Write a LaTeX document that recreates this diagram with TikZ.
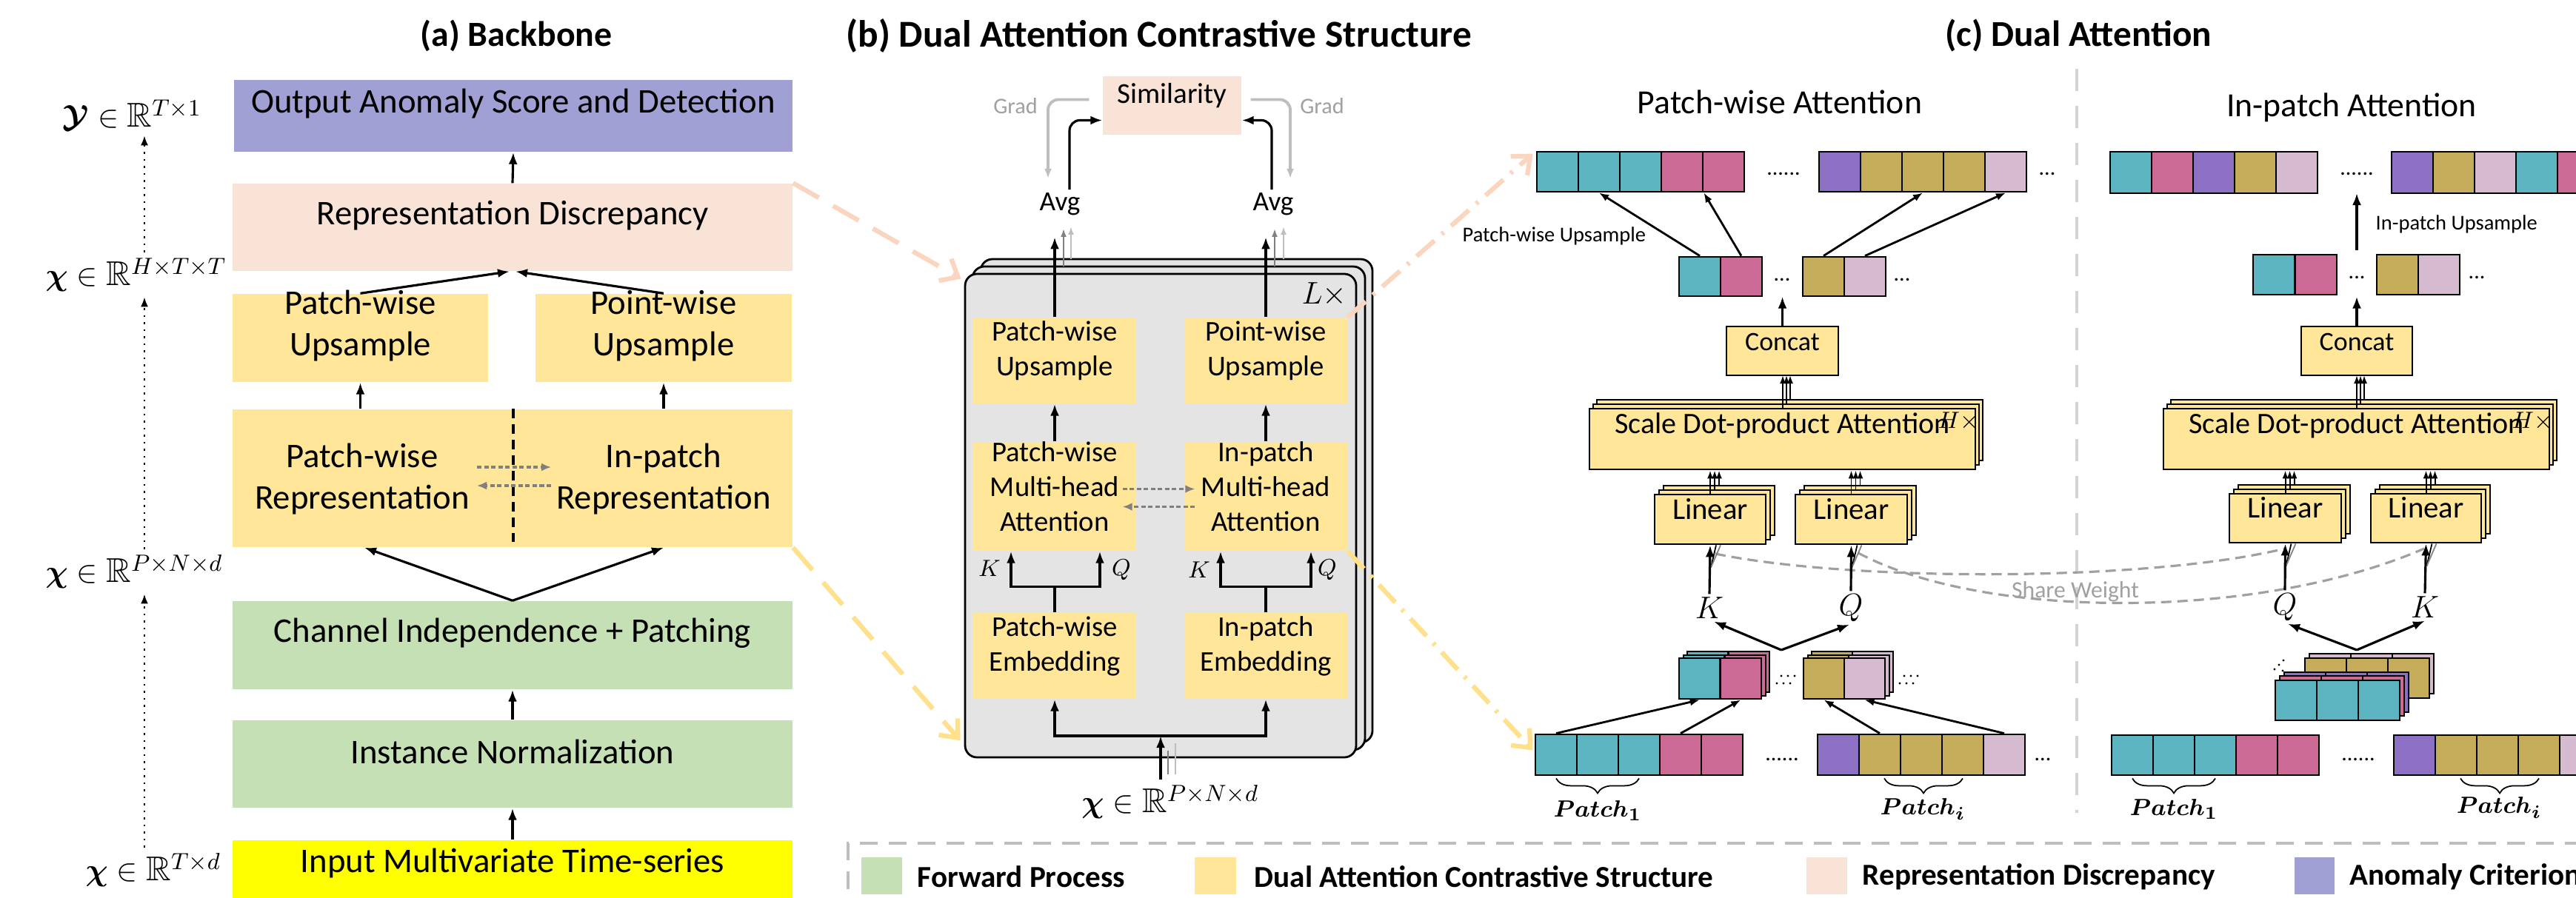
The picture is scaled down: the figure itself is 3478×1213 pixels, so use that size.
\documentclass[tikz,border=0pt]{standalone}
\usepackage{fontspec}
\setmainfont{Carlito}
\usepackage{amsmath,amssymb,bm}
\usetikzlibrary{arrows.meta,calc,fit,decorations.pathreplacing}

\definecolor{cOutBox}{RGB}{160,160,212}
\definecolor{cPeach}{RGB}{248,227,214}
\definecolor{cYel}{RGB}{255,230,153}
\definecolor{cGreen}{RGB}{197,224,180}
\definecolor{cInput}{RGB}{255,255,0}
\definecolor{cStack}{RGB}{228,228,228}
\definecolor{cTeal}{RGB}{91,180,192}
\definecolor{cPink}{RGB}{204,106,150}
\definecolor{cPurp}{RGB}{140,112,195}
\definecolor{cOlive}{RGB}{196,172,90}
\definecolor{cLav}{RGB}{214,186,208}
\definecolor{cPeachLine}{RGB}{250,214,192}
\definecolor{cYelLine}{RGB}{255,224,140}
\definecolor{cGrayTxt}{RGB}{160,160,160}
\definecolor{cGrayDk}{RGB}{128,128,128}
\definecolor{cGrayLt}{RGB}{190,190,190}
\definecolor{cDivider}{RGB}{212,212,212}

\tikzset{
  box/.style={inner sep=0pt, align=center, text=black},
  ybox/.style={box, draw=black, line width=0.8pt, fill=cYel},
  stk/.style={box, draw=black, line width=0.8pt, fill=cStack, rounded corners=0.16cm},
  cellbox/.style={inner sep=0pt, draw=black, line width=0.8pt},
  fA/.style={font=\fontsize{13.3}{15.8}\selectfont},
  fB/.style={font=\fontsize{11}{13.4}\selectfont},
  fC/.style={font=\fontsize{11.4}{14}\selectfont},
  fLin/.style={font=\fontsize{11.6}{14}\selectfont},
  fCat/.style={font=\fontsize{10.2}{12}\selectfont},
  fTitle/.style={font=\fontsize{14.6}{17}\selectfont\bfseries, inner sep=0pt},
  fSub/.style={font=\fontsize{13}{15}\selectfont, inner sep=0pt},
  fSmall/.style={font=\fontsize{8.1}{10}\selectfont, inner sep=0pt},
  fDots/.style={font=\fontsize{8.5}{10}\selectfont, inner sep=0pt},
  fLeg/.style={font=\fontsize{11.7}{14}\selectfont\bfseries, inner sep=0pt, anchor=west},
  fMath/.style={font=\fontsize{13.2}{16}\selectfont, inner sep=2pt},
  fKQb/.style={font=\fontsize{9.5}{11}\selectfont, inner sep=1pt},
  fKQc/.style={font=\fontsize{13}{15}\selectfont, inner sep=1pt},
  fHx/.style={font=\fontsize{9}{10}\selectfont, inner sep=0pt},
  fPatch/.style={font=\fontsize{9.5}{11}\selectfont, inner sep=0pt},
  fGrad/.style={font=\fontsize{8.6}{10}\selectfont, text=cGrayTxt, inner sep=0pt},
  arr/.style={line width=0.9pt, -{Latex[length=1.6mm,width=1.2mm]}},
  arrS/.style={line width=0.8pt, -{Latex[length=1.3mm,width=1mm]}},
  arrT/.style={line width=0.55pt, -{Latex[length=1.1mm,width=0.8mm]}},
  dotarr/.style={line width=0.7pt, dotted, -{Latex[length=1.3mm,width=1mm]}},
  gdash/.style={line width=1.1pt, draw=cGrayDk, dash pattern=on 0.06cm off 0.035cm,
    -{Latex[length=1.3mm,width=1.1mm]}},
  garr/.style={line width=1.1pt, draw=cGrayLt, rounded corners=0.14cm,
    -{Latex[length=1.3mm,width=1mm]}},
  swdash/.style={line width=0.9pt, draw=cGrayTxt, dash pattern=on 0.14cm off 0.08cm},
  brc/.style={decorate, decoration={brace, mirror, amplitude=0.2cm}, line width=0.5pt},
  linkdash/.style={line width=1.8pt, dash pattern=on 0.4cm off 0.22cm,
    -{Straight Barb[length=2mm,width=3.4mm,line width=1.8pt]}},
  linkdot/.style={line width=1.8pt, dash pattern=on 0.32cm off 0.13cm on 0.04cm off 0.13cm,
    -{Straight Barb[length=2mm,width=3.4mm,line width=1.8pt]}},
}

% box from its two corners
\newcommand\bx[7]{\node[box,#2,fit={(#3,#4) (#5,#6)}] (#1) {#7};}
% a row of equal coloured cells, named <name>-1, <name>-2, ...
\newcommand\cellrow[6]{%
  \foreach \cc [count=\ii] in {#6}{%
    \node[cellbox,fill=\cc,fit={({#2+(\ii-1)*#4},#3) ({#2+\ii*#4},{#3+#5})}] (#1-\ii) {};}}

\begin{document}
\begin{tikzpicture}[x=0.01cm,y=-0.01cm]
\useasboundingbox (0,0) rectangle (3478,1213);
\clip (0,0) rectangle (3478,1213);

% ---------------- titles ----------------
\node[fTitle, font=\fontsize{13.6}{16}\selectfont\bfseries] (tA) at (697,48) {(a) Backbone};
\node[fTitle] (tB) at (1565,48) {(b) Dual Attention Contrastive Structure};
\node[fTitle, font=\fontsize{14}{16}\selectfont\bfseries] (tC) at (2806,48) {(c) Dual Attention};

% ---------------- (a) backbone ----------------
\bx{aOut}{fA,fill=cOutBox}{316}{108}{1070}{205}{Output Anomaly Score and Detection}
\bx{aRep}{fA,fill=cPeach}{314}{248}{1070}{366}{Representation Discrepancy}
\bx{aUpL}{fA,fill=cYel}{314}{397}{659}{516}{Patch-wise\\Upsample}
\bx{aUpR}{fA,fill=cYel}{723}{397}{1069}{516}{Point-wise\\Upsample}
\bx{aRepr}{fill=cYel}{314}{553}{1070}{739}{}
\node[box,fA] (aReprL) at (489,647) {Patch-wise\\Representation};
\node[box,fA] (aReprR) at (896,647) {In-patch\\Representation};
\bx{aCh}{fA,fill=cGreen}{314}{812}{1070}{931}{Channel Independence + Patching}
\bx{aIn}{fA,fill=cGreen}{314}{973}{1070}{1091}{Instance Normalization}
\bx{aInp}{fA,fill=cInput}{314}{1135}{1070}{1230}{Input Multivariate Time-series}

\draw[line width=0.9pt, dash pattern=on 0.13cm off 0.08cm] ($(aRepr.north)+(1,0)$) -- ($(aRepr.south)+(1,-8)$);
\draw[gdash] ($(aRepr.center)+(-48,-15)$) -- ($(aRepr.center)+(52,-15)$);
\draw[gdash] ($(aRepr.center)+(52,10)$) -- ($(aRepr.center)+(-48,10)$);

\draw[arr] (aRep.north) -- (aOut.south);
\draw[arr] (aUpL.north) -- ($(aRep.south)+(-4,0)$);
\draw[arr] (aUpR.north) -- ($(aRep.south)+(4,0)$);
\draw[arr] (aUpL.south |- aRepr.north) -- (aUpL.south);
\draw[arr] (aUpR.south |- aRepr.north) -- (aUpR.south);
\draw[arr] (aCh.north) -- ($(aRepr.south)+(-200,0)$);
\draw[arr] (aCh.north) -- ($(aRepr.south)+(204,0)$);
\draw[arr] (aIn.north) -- (aCh.south);
\draw[arr] (aInp.north) -- (aIn.south);

% shapes along the backbone
\node[fMath,anchor=west] (lY) at (77,155) {$\boldsymbol{\mathcal{Y}}\in\mathbb{R}^{T\times 1}$};
\node[fMath,anchor=west] (lH) at (54,371) {$\boldsymbol{\chi}\in\mathbb{R}^{H\times T\times T}$};
\node[fMath,anchor=west] (lP) at (54,772) {$\boldsymbol{\chi}\in\mathbb{R}^{P\times N\times d}$};
\node[fMath,anchor=west] (lT) at (108,1175) {$\boldsymbol{\chi}\in\mathbb{R}^{T\times d}$};
\coordinate (dx) at (195,0);
\draw[dotarr] (lT.north -| dx) -- (lP.south -| dx);
\draw[dotarr] (lP.north -| dx) -- (lH.south -| dx);
\draw[dotarr] (lH.north -| dx) -- (lY.south -| dx);

% ---------------- (b) contrastive structure ----------------
\bx{bS3}{stk}{1324}{350}{1853}{1003}{}
\bx{bS2}{stk}{1313}{360}{1843}{1013}{}
\bx{bS1}{stk}{1303}{370}{1831}{1023}{}
\node[font=\fontsize{12.5}{14}\selectfont, inner sep=0pt] (bL) at (1788,398) {$L\times$};

\bx{bUpL}{fB,fill=cYel}{1314}{429}{1534}{545}{Patch-wise\\Upsample}
\bx{bUpR}{fB,fill=cYel}{1599}{429}{1819}{545}{Point-wise\\Upsample}
\bx{bMhL}{fB,fill=cYel}{1314}{597}{1534}{744}{Patch-wise\\Multi-head\\Attention}
\bx{bMhR}{fB,fill=cYel}{1599}{597}{1819}{744}{In-patch\\Multi-head\\Attention}
\bx{bEmL}{fB,fill=cYel}{1314}{828}{1534}{944}{Patch-wise\\Embedding}
\bx{bEmR}{fB,fill=cYel}{1599}{828}{1819}{944}{In-patch\\Embedding}

\draw[arr] (bMhL.north) -- (bUpL.south);
\draw[arr] (bMhR.north) -- (bUpR.south);

\coordinate (bJL) at ($(bEmL.north)+(0,-35)$);
\coordinate (bJR) at ($(bEmR.north)+(0,-35)$);
\draw[line width=0.9pt] (bEmL.north) -- (bJL);
\draw[line width=0.9pt] (bEmR.north) -- (bJR);
\draw[arr] (bJL) -| ($(bMhL.south)+(-59,0)$);
\draw[arr] (bJL) -| ($(bMhL.south)+(61,0)$);
\draw[arr] (bJR) -| ($(bMhR.south)+(-61,0)$);
\draw[arr] (bJR) -| ($(bMhR.south)+(61,0)$);
\node[fKQb] (bKL) at (1336,768) {$K$};
\node[fKQb] (bQL) at (1514,770) {$Q$};
\node[fKQb] (bKR) at (1619,770) {$K$};
\node[fKQb] (bQR) at (1792,770) {$Q$};

\draw[gdash] ($(bMhL.east)+(-19,-10)$) -- ($(bMhR.west)+(15,-10)$);
\draw[gdash] ($(bMhR.west)+(15,14)$) -- ($(bMhL.east)+(-19,14)$);

\node[fMath] (bX) at (1580,1083) {$\boldsymbol{\chi}\in\mathbb{R}^{P\times N\times d}$};
\coordinate (bJB) at (1567,994);
\draw[arr] (bX.north -| bJB) -- (bJB);
\draw[arr] (bJB) -| (bEmL.south);
\draw[arr] (bJB) -| (bEmR.south);
\draw[line width=0.7pt, draw=cGrayDk] (1577,1014) -- (1577,1046);
\draw[line width=0.7pt, draw=cGrayLt] (1587,1004) -- (1587,1046);

\bx{bSim}{fill=cPeach,font=\fontsize{11.1}{13}\selectfont}{1489}{103}{1676}{182}{Similarity}
\node[font=\fontsize{10.6}{12}\selectfont, inner sep=0pt] (bAvgL) at (1431,276) {Avg};
\node[font=\fontsize{10.6}{12}\selectfont, inner sep=0pt] (bAvgR) at (1719,276) {Avg};
\draw[arr] (bUpL.north) -- ++(0,-108);
\draw[arr] (bUpR.north) -- ++(0,-108);
\draw[arrT, draw=cGrayDk] (1436,360) -- (1436,309);
\draw[arrT, draw=cGrayLt] (1446,350) -- (1446,306);
\draw[arrT, draw=cGrayDk] (1721,360) -- (1721,309);
\draw[arrT, draw=cGrayLt] (1733,350) -- (1733,306);
\draw[arr, rounded corners=0.14cm] ($(bAvgL.north)+(13,-4)$) |- ($(bSim.west)+(0,20)$);
\draw[arr, rounded corners=0.14cm] ($(bAvgR.north)+(-2,-4)$) |- ($(bSim.east)+(0,20)$);
\draw[garr] ($(bSim.west)+(-18,-8)$) -| (1415,241);
\draw[garr] ($(bSim.east)+(12,-8)$) -| (1742,241);
\node[fGrad] (bGradL) at (1371,143) {Grad};
\node[fGrad] (bGradR) at (1785,143) {Grad};

% ---------------- (c) dual attention ----------------
\draw[line width=1.1pt, draw=cDivider, dash pattern=on 0.3cm off 0.2cm] (2804,93) -- (2804,1098);
\node[fSub] (tPW) at (2403,138) {Patch-wise Attention};
\node[fSub] (tIP) at (3175,145) {In-patch Attention};

% shared projection weights
\draw[swdash] (2316,748) .. controls (2500,786) and (2900,786) .. (3085,741);
\draw[swdash] (2509,747) .. controls (2680,838) and (3050,838) .. (3273,741);
\node[font=\fontsize{9}{11}\selectfont, text=cGrayTxt, inner sep=0pt] (tSW) at (2802,799) {Share Weight};

% --- patch-wise branch ---
\cellrow{pwTA}{2075}{205}{56}{54}{cTeal,cTeal,cTeal,cPink,cPink}
\cellrow{pwTB}{2456}{205}{56}{54}{cPurp,cOlive,cOlive,cOlive,cLav}
\node[fDots] (pwTD1) at (2408,235) {......};
\node[fDots] (pwTD2) at (2764,235) {...};
\cellrow{pwMA}{2267}{347}{56}{53}{cTeal,cPink}
\cellrow{pwMB}{2434}{347}{56}{53}{cOlive,cLav}
\node[fDots] (pwMD1) at (2406,378) {...};
\node[fDots] (pwMD2) at (2568,378) {...};
\draw[arrS] (pwMA-1.north) -- (pwTA-2.south);
\draw[arrS] (pwMA-2.north) -- (pwTA-4.south east);
\draw[arrS] (pwMB-1.north) -- (pwTB-3.south);
\draw[arrS] (pwMB-2.north) -- (pwTB-5.south);
\node[fSmall,anchor=west] (pwUp) at (1974,319) {Patch-wise Upsample};

\bx{pwCat}{ybox,fCat}{2331}{441}{2482}{507}{Concat}
\draw[arr] (pwCat.north) -- ++(0,-39);
\bx{pwSd3}{ybox}{2156}{540}{2677}{622}{}
\bx{pwSd2}{ybox}{2151}{546}{2672}{628}{}
\bx{pwSd1}{ybox,fC}{2146}{552}{2667}{634}{\strut Scale Dot-product Attention}
\node[fHx] (pwHx) at (2644,569) {$H\times$};
\draw[arrT] (2407,552) -- (2407,507);
\draw[arrT] (2412,546) -- (2412,507);
\draw[arrT] (2417,540) -- (2417,507);

\bx{pwLk3}{ybox}{2246}{656}{2396}{723}{}
\bx{pwLk2}{ybox}{2240}{662}{2390}{729}{}
\bx{pwLk1}{ybox,fLin}{2234}{668}{2384}{735}{Linear}
\bx{pwLq3}{ybox}{2436}{656}{2587}{723}{}
\bx{pwLq2}{ybox}{2430}{662}{2581}{729}{}
\bx{pwLq1}{ybox,fLin}{2424}{668}{2575}{735}{Linear}
\foreach \L in {pwLk,pwLq}{
  \draw[arrT] (\L1.north) -- (\L1.north |- pwSd1.south);
  \draw[arrT] ($(\L1.north)+(6,-6)$) -- ($(\L1.north |- pwSd1.south)+(6,0)$);
  \draw[arrT] ($(\L1.north)+(12,-12)$) -- ($(\L1.north |- pwSd1.south)+(12,0)$);
  \draw[line width=0.5pt] ($(\L1.south)+(1,30)$) -- ($(\L1.south)+(8,0)$);
  \draw[line width=0.5pt, draw=cGrayDk] ($(\L1.south)+(1,30)$) -- ($(\L1.south)+(14,0)$);
}
\node[fKQc] (pwK) at (2308,821) {$K$};
\node[fKQc] (pwQ) at (2499,821) {$Q$};
\draw[arr] (pwK.north) -- (pwLk1.south);
\draw[arr] (pwQ.north) -- (pwLq1.south);
\coordinate (pwApex) at (2405,878);
\draw[arr] (pwApex) -- ($(pwK.south)+(6,0)$);
\draw[arr] (pwApex) -- ($(pwQ.south)+(-2,0)$);

\cellrow{pwSA3}{2278}{880}{55.5}{55}{cTeal,cPink}
\cellrow{pwSA2}{2273}{885}{55.5}{55}{cTeal,cPink}
\cellrow{pwSA1}{2267}{889}{55.5}{55}{cTeal,cPink}
\cellrow{pwSB3}{2446}{880}{55}{55}{cOlive,cLav}
\cellrow{pwSB2}{2441}{885}{55}{55}{cOlive,cLav}
\cellrow{pwSB1}{2435}{889}{55}{55}{cOlive,cLav}
\foreach \ox in {0,166}{
  \foreach \k in {0,1,2}{
    \fill ({2399+\ox+\k*9},923) circle (1.6);
    \fill ({2405+\ox+\k*9},913) circle (1.6);
  }
}

\cellrow{pwBA}{2073}{992}{56}{55}{cTeal,cTeal,cTeal,cPink,cPink}
\cellrow{pwBB}{2454}{992}{56}{55}{cPurp,cOlive,cOlive,cOlive,cLav}
\node[fDots] (pwBD1) at (2406,1026) {......};
\node[fDots] (pwBD2) at (2758,1026) {...};
\draw[arrS] (pwBA-1.north) -- (pwSA1-1.south);
\draw[arrS] (pwBA-4.north) -- (pwSA1-2.south);
\draw[arrS] (pwBB-2.north) -- (pwSB1-1.south);
\draw[arrS] (pwBB-5.north) -- (pwSB1-2.south);
\draw[brc] ($(pwBA-1.south)+(0,3)$) -- ($(pwBA-3.south)+(0,3)$);
\draw[brc] ($(pwBB-2.south)+(6,3)$) -- ($(pwBB-4.south)+(0,3)$);
\node[fPatch] (pwP1) at (2157,1095) {$\boldsymbol{Patch_{1}}$};
\node[fPatch] (pwPi) at (2596,1093) {$\boldsymbol{Patch_{i}}$};

% --- in-patch branch ---
\cellrow{ipTA}{2849}{205}{56}{56}{cTeal,cPink,cPurp,cOlive,cLav}
\cellrow{ipTB}{3229}{205}{56}{56}{cPurp,cOlive,cLav,cTeal,cPink}
\node[fDots] (ipTD) at (3182,235) {......};
\cellrow{ipMA}{3042}{344}{56.5}{54}{cTeal,cPink}
\cellrow{ipMB}{3209}{344}{56}{54}{cOlive,cLav}
\node[fDots] (ipMD1) at (3182,375) {...};
\node[fDots] (ipMD2) at (3344,375) {...};
\coordinate (ipUpS) at (3182,338);
\coordinate (ipUpE) at (3182,261);
\draw[arr] (ipUpS) -- (ipUpE);
\node[fSmall,anchor=west] (ipUp) at (3207,303) {In-patch Upsample};

\bx{ipCat}{ybox,fCat}{3107}{441}{3257}{507}{Concat}
\draw[arr] (ipCat.north) -- ++(0,-39);
\bx{ipSd3}{ybox}{2931}{540}{3452}{622}{}
\bx{ipSd2}{ybox}{2926}{546}{3447}{628}{}
\bx{ipSd1}{ybox,fC}{2921}{552}{3442}{634}{\strut Scale Dot-product Attention}
\node[fHx] (ipHx) at (3419,569) {$H\times$};
\draw[arrT] (3182,552) -- (3182,507);
\draw[arrT] (3187,546) -- (3187,507);
\draw[arrT] (3192,540) -- (3192,507);

\bx{ipLq3}{ybox}{3022}{655}{3173}{721}{}
\bx{ipLq2}{ybox}{3016}{661}{3167}{727}{}
\bx{ipLq1}{ybox,fLin}{3010}{667}{3161}{733}{Linear}
\bx{ipLk3}{ybox}{3213}{655}{3362}{721}{}
\bx{ipLk2}{ybox}{3207}{661}{3356}{727}{}
\bx{ipLk1}{ybox,fLin}{3201}{667}{3350}{733}{Linear}
\foreach \L in {ipLq,ipLk}{
  \draw[arrT] (\L1.north) -- (\L1.north |- ipSd1.south);
  \draw[arrT] ($(\L1.north)+(6,-6)$) -- ($(\L1.north |- ipSd1.south)+(6,0)$);
  \draw[arrT] ($(\L1.north)+(12,-12)$) -- ($(\L1.north |- ipSd1.south)+(12,0)$);
  \draw[line width=0.5pt] ($(\L1.south)+(1,30)$) -- ($(\L1.south)+(8,0)$);
  \draw[line width=0.5pt, draw=cGrayDk] ($(\L1.south)+(1,30)$) -- ($(\L1.south)+(14,0)$);
}
\node[fKQc] (ipQ) at (3085,820) {$Q$};
\node[fKQc] (ipK) at (3274,820) {$K$};
\draw[arr] (ipQ.north) -- (ipLq1.south);
\draw[arr] (ipK.north) -- (ipLk1.south);
\coordinate (ipApex) at (3182,878);
\draw[arr] (ipApex) -- ($(ipQ.south)+(4,0)$);
\draw[arr] (ipApex) -- ($(ipK.south)+(0,0)$);

\cellrow{ipS5}{3118}{883}{56}{54}{cLav,cLav,cLav}
\cellrow{ipS4}{3112}{889}{56}{54}{cOlive,cOlive,cOlive}
\cellrow{ipS3}{3084}{908}{56}{54}{cPurp,cPurp,cPurp}
\cellrow{ipS2}{3078}{913}{56}{54}{cPink,cPink,cPink}
\cellrow{ipS1}{3072}{919}{56}{54}{cTeal,cTeal,cTeal}
\foreach \k in {0,1,2}{
  \fill ({3071+\k*6},{904-\k*6}) circle (1.6);
}
\fill (3082,906) circle (1.6);

\cellrow{ipBA}{2851}{993}{56}{54}{cTeal,cTeal,cTeal,cPink,cPink}
\cellrow{ipBB}{3232}{993}{56}{54}{cPurp,cOlive,cOlive,cOlive,cLav}
\node[fDots] (ipBD) at (3184,1026) {......};
\draw[brc] ($(ipBA-1.south)+(0,3)$) -- ($(ipBA-3.south)+(0,3)$);
\draw[brc] ($(ipBB-2.south)+(6,3)$) -- ($(ipBB-4.south)+(0,3)$);
\node[fPatch] (ipP1) at (2935,1093) {$\boldsymbol{Patch_{1}}$};
\node[fPatch] (ipPi) at (3374,1091) {$\boldsymbol{Patch_{i}}$};

% ---------------- links between the panels ----------------
\draw[linkdash, draw=cPeachLine] (aRep.north east) -- ($(bS1.north west)+(-4,8)$);
\draw[linkdash, draw=cYelLine] (aRepr.south east) -- ($(bS1.south west)+(-5,-24)$);
\draw[linkdot, draw=cPeachLine] (bUpR.north east) -- ($(pwTA-1.north west)+(-4,4)$);
\draw[linkdot, draw=cYelLine] (bMhR.south east) -- ($(pwBA-1.west)+(-2,-6)$);

% ---------------- legend ----------------
\draw[line width=1.2pt, draw=cGrayLt, dash pattern=on 0.24cm off 0.15cm]
  (1145,1240) -- (1145,1139) -- (3500,1139);
\bx{lgG}{fill=cGreen}{1163}{1158}{1218}{1208}{}
\node[fLeg] (lgGt) at (1238,1184) {Forward Process};
\bx{lgY}{fill=cYel}{1613}{1158}{1669}{1208}{}
\node[fLeg] (lgYt) at (1693,1184) {Dual Attention Contrastive Structure};
\bx{lgP}{fill=cPeach}{2439}{1158}{2494}{1208}{}
\node[fLeg] (lgPt) at (2514,1184) {Representation Discrepancy};
\bx{lgO}{fill=cOutBox}{3098}{1158}{3152}{1208}{}
\node[fLeg] (lgOt) at (3172,1184) {Anomaly Criterion};

\end{tikzpicture}
\end{document}
